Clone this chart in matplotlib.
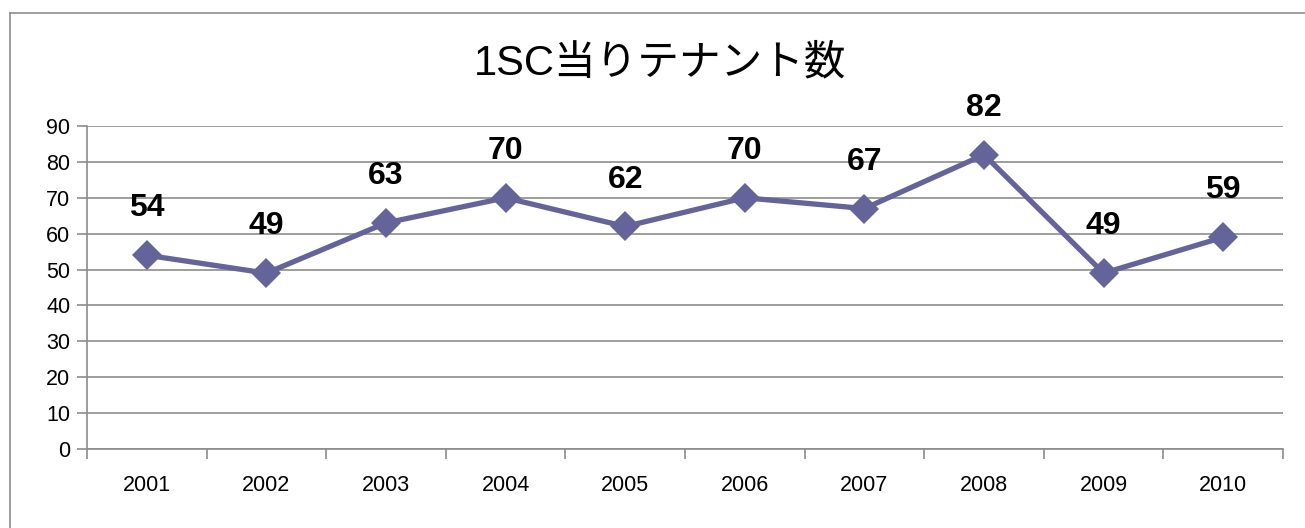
import numpy as np
import matplotlib
matplotlib.use('Agg')
import matplotlib.pyplot as plt
from matplotlib.lines import Line2D

# ---- Data ----
years = ['2001', '2002', '2003', '2004', '2005', '2006', '2007', '2008', '2009', '2010']
tenants = [54, 49, 63, 70, 62, 70, 67, 82, 49, 59]
title = '1SC当りテナント数'

# ---- Style ----
line_color = '#64649a'
grid_color = '#8c8c8c'
plt.rcParams['font.family'] = ['Liberation Sans', 'Noto Sans CJK JP', 'DejaVu Sans']

fig = plt.figure(figsize=(13.05, 5.28), dpi=100)
ax = fig.add_axes([87 / 1305, 1 - 449 / 528, 1196 / 1305, 323 / 528])

# frame around the chart area (only left and top edges are visible)
top = 1 - 13 / 528
left = 10 / 1305
fig.add_artist(Line2D([left, left], [0, top], transform=fig.transFigure,
                      color=grid_color, linewidth=1.2))
fig.add_artist(Line2D([left, 1], [top, top], transform=fig.transFigure,
                      color=grid_color, linewidth=1.2))

x = np.arange(len(years))
ax.plot(x, tenants, '-', color=line_color, linewidth=3.8,
        marker='D', markersize=15.5, markeredgewidth=0, zorder=3)

for xi, v in zip(x, tenants):
    ax.annotate(str(v), (xi, v), xytext=(0, 23), textcoords='offset points',
                ha='center', va='bottom', fontsize=23, fontweight='bold')

# axes and ticks
ax.set_xlim(-0.5, len(years) - 0.5)
ax.set_ylim(0, 90)
ax.set_yticks(np.arange(0, 91, 10))
ax.set_xticks(np.arange(-0.5, len(years)), labels=[])
ax.set_xticks(x, labels=years, minor=True)
ax.tick_params(axis='x', which='major', length=7, color=grid_color, width=1.2)
ax.tick_params(axis='x', which='minor', length=0, pad=19, labelsize=15.5)
ax.tick_params(axis='y', length=7, color=grid_color, width=1.2, labelsize=15.5, pad=5)

ax.yaxis.grid(True, color=grid_color, linewidth=1.2)
ax.set_axisbelow(True)
for side in ['top', 'right']:
    ax.spines[side].set_visible(False)
for side in ['left', 'bottom']:
    ax.spines[side].set_color(grid_color)
    ax.spines[side].set_linewidth(1.2)

fig.text(660 / 1305, 1 - 63 / 528, title, ha='center', va='center', fontsize=30,
         family=['Liberation Sans', 'Noto Sans CJK JP'])

fig.savefig('out.png', dpi=100, facecolor='white')
